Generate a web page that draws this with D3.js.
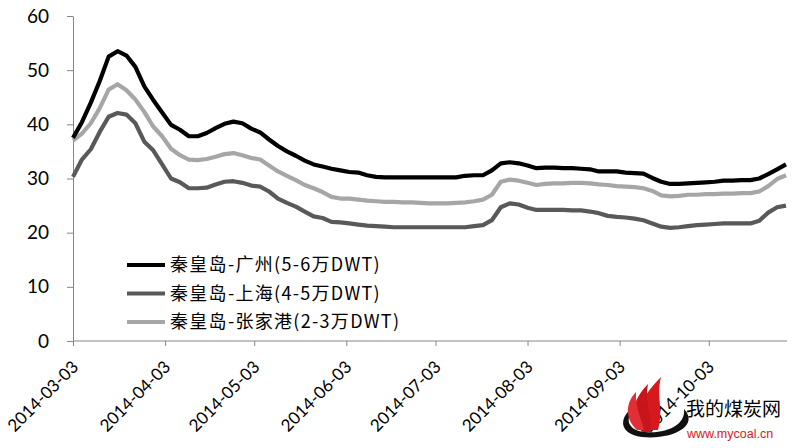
<!DOCTYPE html>
<html>
<head>
<meta charset="utf-8">
<script src="https://cdn.jsdelivr.net/npm/d3@7"></script>
<style>
  body { margin: 0; background: #fff; }
  .axis path, .axis line { stroke: #868686; }
  .axis text { font-family: Lato, "Open Sans", sans-serif; fill: #000; }
  .line { fill: none; stroke-width: 4.2px; stroke-linejoin: round; }
</style>
</head>
<body>
<div id="chart"></div>
<script>
// dates (every 3 days)
var dates = [
  '2014-03-03','2014-03-06','2014-03-09','2014-03-12','2014-03-15','2014-03-18','2014-03-21','2014-03-24','2014-03-27','2014-03-30',
  '2014-04-02','2014-04-05','2014-04-08','2014-04-11','2014-04-14','2014-04-17','2014-04-20','2014-04-23','2014-04-26','2014-04-29',
  '2014-05-02','2014-05-05','2014-05-08','2014-05-11','2014-05-14','2014-05-17','2014-05-20','2014-05-23','2014-05-26','2014-05-29',
  '2014-06-01','2014-06-04','2014-06-07','2014-06-10','2014-06-13','2014-06-16','2014-06-19','2014-06-22','2014-06-25','2014-06-28',
  '2014-07-01','2014-07-04','2014-07-07','2014-07-10','2014-07-13','2014-07-16','2014-07-19','2014-07-22','2014-07-25','2014-07-28','2014-07-31',
  '2014-08-03','2014-08-06','2014-08-09','2014-08-12','2014-08-15','2014-08-18','2014-08-21','2014-08-24','2014-08-27','2014-08-30',
  '2014-09-02','2014-09-05','2014-09-08','2014-09-11','2014-09-14','2014-09-17','2014-09-20','2014-09-23','2014-09-26','2014-09-29',
  '2014-10-02','2014-10-05','2014-10-08','2014-10-11','2014-10-14','2014-10-17','2014-10-20','2014-10-23','2014-10-26','2014-10-29'
];

// 秦皇岛-广州(5-6万DWT)
var guangzhou = [
  37.5,40.4,44.0,48.0,52.5,53.5,52.7,50.6,47.0,44.5,
  42.2,39.9,39.0,37.8,37.8,38.4,39.3,40.1,40.5,40.2,
  39.2,38.5,37.2,36.0,35.0,34.2,33.3,32.6,32.2,31.8,
  31.5,31.2,31.1,30.6,30.3,30.2,30.2,30.2,30.2,30.2,
  30.2,30.2,30.2,30.2,30.5,30.6,30.6,31.5,32.8,33.0,32.8,
  32.4,31.9,32.0,32.0,31.9,31.9,31.8,31.7,31.3,31.3,
  31.3,31.1,31.0,30.9,30.1,29.4,29.0,29.0,29.1,29.2,
  29.3,29.4,29.6,29.6,29.7,29.7,30.0,30.8,31.7,32.6
];

// 秦皇岛-上海(4-5万DWT)
var shanghai = [
  30.3,33.5,35.4,38.6,41.4,42.1,41.8,40.2,36.8,35.2,
  32.6,30.0,29.3,28.2,28.2,28.3,28.9,29.4,29.5,29.2,
  28.7,28.5,27.6,26.3,25.5,24.8,23.9,23.0,22.7,22.0,
  21.9,21.7,21.5,21.3,21.2,21.1,21.0,21.0,21.0,21.0,
  21.0,21.0,21.0,21.0,21.0,21.2,21.4,22.3,24.7,25.4,25.2,
  24.6,24.2,24.2,24.2,24.2,24.1,24.1,23.9,23.6,23.1,
  22.9,22.8,22.6,22.3,21.7,21.1,20.9,21.0,21.2,21.4,
  21.5,21.6,21.7,21.7,21.7,21.7,22.2,23.7,24.7,25.0
];

// 秦皇岛-张家港(2-3万DWT)
var zhangjiagang = [
  37.0,38.3,40.2,43.0,46.4,47.4,46.3,44.6,42.3,39.6,
  37.8,35.5,34.3,33.5,33.4,33.6,34.0,34.5,34.7,34.3,
  33.8,33.5,32.4,31.3,30.5,29.7,28.8,28.2,27.5,26.6,
  26.3,26.3,26.1,25.9,25.8,25.7,25.7,25.6,25.6,25.5,
  25.4,25.4,25.4,25.5,25.6,25.8,26.1,27.0,29.4,29.8,29.6,
  29.2,28.8,29.0,29.1,29.1,29.2,29.2,29.1,28.9,28.8,
  28.6,28.5,28.4,28.2,27.7,26.9,26.7,26.8,27.0,27.0,
  27.1,27.1,27.2,27.2,27.3,27.3,27.6,28.6,29.9,30.6
];

var seriesNames = ['秦皇岛-广州(5-6万DWT)', '秦皇岛-上海(4-5万DWT)', '秦皇岛-张家港(2-3万DWT)'];
var seriesColors = ['#000000', '#595959', '#a6a6a6'];
var xTickLabels = ['2014-03-03','2014-04-03','2014-05-03','2014-06-03','2014-07-03','2014-08-03','2014-09-03','2014-10-03'];
var yTicks = [0, 10, 20, 30, 40, 50, 60];

var parseDate = d3.timeParse('%Y-%m-%d');

var svg = d3.select('#chart').append('svg')
    .attr('width', 796)
    .attr('height', 448);

var margin = { top: 16, left: 73, right: 9, bottom: 107 };
var width = 796 - margin.left - margin.right,
    height = 448 - margin.top - margin.bottom;

var g = svg.append('g')
  .attr('transform', 'translate(' + margin.left + ',' + margin.top + ')');

var x = d3.scaleTime()
  .domain([parseDate('2014-03-03'), parseDate('2014-10-29')])
  .range([0, 713]);
var y = d3.scaleLinear().domain([0, 60]).range([height, 0]);

// x axis
var xAxis = g.append('g')
  .attr('class', 'axis axis--x')
  .attr('transform', 'translate(0,' + height + ')')
  .call(d3.axisBottom(x)
    .tickValues(xTickLabels.map(parseDate))
    .tickFormat(d3.timeFormat('%Y-%m-%d'))
    .tickSize(5)
    .tickSizeOuter(0));
xAxis.select('.domain').attr('d', 'M0,0H' + width);
xAxis.selectAll('text')
  .style('font-size', '17px')
  .attr('text-anchor', 'end')
  .attr('x', 0)
  .attr('y', 0)
  .attr('dy', 0)
  .attr('transform', 'translate(6,27) rotate(-45)');

// y axis
g.append('g')
  .attr('class', 'axis axis--y')
  .call(d3.axisLeft(y).tickValues(yTicks).tickSize(6).tickSizeOuter(0).tickPadding(18))
  .selectAll('text').style('font-size', '19px');

var line = d3.line()
  .x(function (d) { return x(d.date); })
  .y(function (d) { return y(d.value); });

var allSeries = [guangzhou, shanghai, zhangjiagang].map(function (vals, i) {
  return {
    name: seriesNames[i],
    color: seriesColors[i],
    values: vals.map(function (v, j) { return { date: parseDate(dates[j]), value: v }; })
  };
});

// draw light first so black ends on top
g.selectAll('.line')
  .data(allSeries.slice().reverse())
  .enter()
  .append('path')
  .attr('class', 'line')
  .attr('d', function (d) { return line(d.values); })
  .style('stroke', function (d) { return d.color; });

// legend
var legend = svg.append('g').attr('transform', 'translate(127,265)');
allSeries.forEach(function (s, i) {
  var row = legend.append('g').attr('transform', 'translate(0,' + (i * 28.5) + ')');
  row.append('line')
    .attr('x1', 0).attr('x2', 38)
    .attr('stroke', s.color).attr('stroke-width', 4);
  row.append('text')
    .attr('x', 43).attr('dy', '0.36em')
    .style('font', '18px "Noto Sans CJK SC", sans-serif')
    .style('letter-spacing', '1.3px')
    .text(s.name);
});

// watermark
var wm = svg.append('g');
wm.append('path')
  .attr('d', 'M684,409 C700,426 672,440 642,437 C616,434 618,413 641,403 C624,414 624,430 645,432 C668,434 686,424 684,409 Z')
  .attr('fill', '#111');
wm.append('path')
  .attr('d', 'M648,430 C632,412 644,394 661,377 C656,396 664,410 658,430 Z')
  .attr('fill', '#d7181f');
wm.append('path')
  .attr('d', 'M642,432 C628,416 634,398 648,384 C644,402 652,416 651,432 Z')
  .attr('fill', '#c8141b');
wm.append('path')
  .attr('d', 'M637,430 C624,418 626,402 636,392 C635,408 642,420 644,430 Z')
  .attr('fill', '#e03036');
wm.append('text')
  .attr('x', 686).attr('y', 416)
  .style('font', '19px "Noto Sans CJK SC", sans-serif')
  .text('我的煤炭网');
wm.append('text')
  .attr('x', 687).attr('y', 438)
  .style('font', '12.5px "Liberation Sans", sans-serif')
  .attr('fill', '#d7181f')
  .text('www.mycoal.cn');
</script>
</body>
</html>
